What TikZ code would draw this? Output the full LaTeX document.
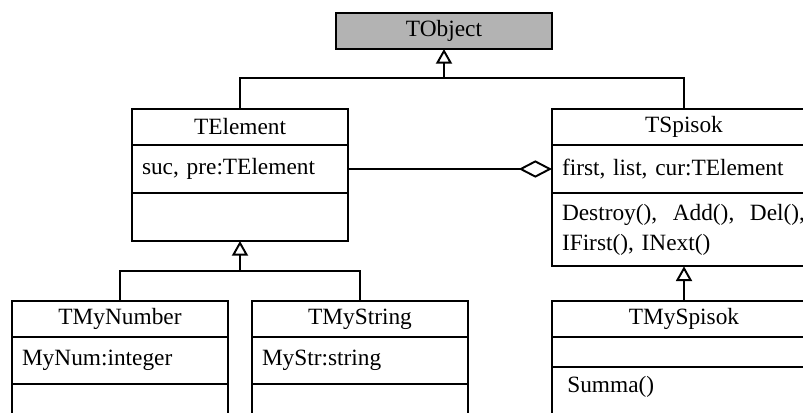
\documentclass[tikz,border=0pt]{standalone}
\usepackage{fontspec}
\setmainfont{Liberation Serif}
\usetikzlibrary{arrows.meta,calc,positioning}
\definecolor{rootgray}{RGB}{179,179,179}

\begin{document}
\begin{tikzpicture}[x=0.75pt, y=-0.75pt, line width=1.45pt,
    every node/.style={font=\fontsize{17.5}{22.5}\selectfont},
    cls/.style={draw, outer sep=0pt, inner sep=0pt, minimum width=162pt, anchor=north},
    title/.style={cls, minimum height=27pt, align=center},
    part/.style={cls, minimum height=#1, text width=147pt, inner xsep=7.5pt, align=left},
    wide/.style={minimum width=198pt, text width=183pt},
    inherit/.style={-{Triangle[open, width=12pt, length=11pt]}},
    aggr/.style={-{Diamond[open, width=13pt, length=25pt]}}]
  \useasboundingbox (0,0) rectangle (803,412);
  \clip (0,0) rectangle (803,412);

  % root
  \node [title, fill=rootgray]                    (obj)   at (444,13) {TObject};

  % TElement
  \node [title]                                   (elem)  at (240,109) {TElement};
  \node [part=36pt] [below=0pt of elem]           (elemA) {suc, pre:TElement};
  \node [part=36pt] [below=0pt of elemA]          (elemO) {};

  % TSpisok
  \node [title, wide]                             (lst)   at (684,109) {TSpisok};
  \node [part=36pt, wide] [below=0pt of lst]      (lstA)  {first, list, cur:TElement};
  \node [part=55pt, wide] [below=0pt of lstA]     (lstO)  {Destroy(), \ Add(), \ Del(),\\IFirst(), INext()};

  % descendants
  \node [title]                                   (num)   at (120,301) {TMyNumber};
  \node [part=35pt] [below=0pt of num]            (numA)  {MyNum:integer};
  \node [part=36pt] [below=0pt of numA]           (numO)  {};

  \node [title]                                   (str)   at (360,301) {TMyString};
  \node [part=35pt] [below=0pt of str]            (strA)  {MyStr:string};
  \node [part=36pt] [below=0pt of strA]           (strO)  {};

  \node [title, wide]                             (mylst) at (684,301) {TMySpisok};
  \node [part=22.5pt, wide] [below=0pt of mylst]  (mylstA) {};
  \node [part=45pt, wide, text height=19pt, text depth=26pt] [below=0pt of mylstA] (mylstO) {\hspace{4pt}Summa()};

  % connectors
  \coordinate (hubA) at ($(obj.south)+(0,29)$);
  \coordinate (hubB) at ($(elemO.south)+(0,30)$);
  \draw [inherit] (hubA) -- (obj.south);
  \draw (elem.north) |- (hubA) -| (lst.north);
  \draw [inherit] (hubB) -- (elemO.south);
  \draw (num.north) |- (hubB) -| (str.north);
  \draw [inherit] (mylst.north) -- (lstO.south);
  \draw [aggr] (elemA.east) -- (lstA.west);
\end{tikzpicture}
\end{document}
